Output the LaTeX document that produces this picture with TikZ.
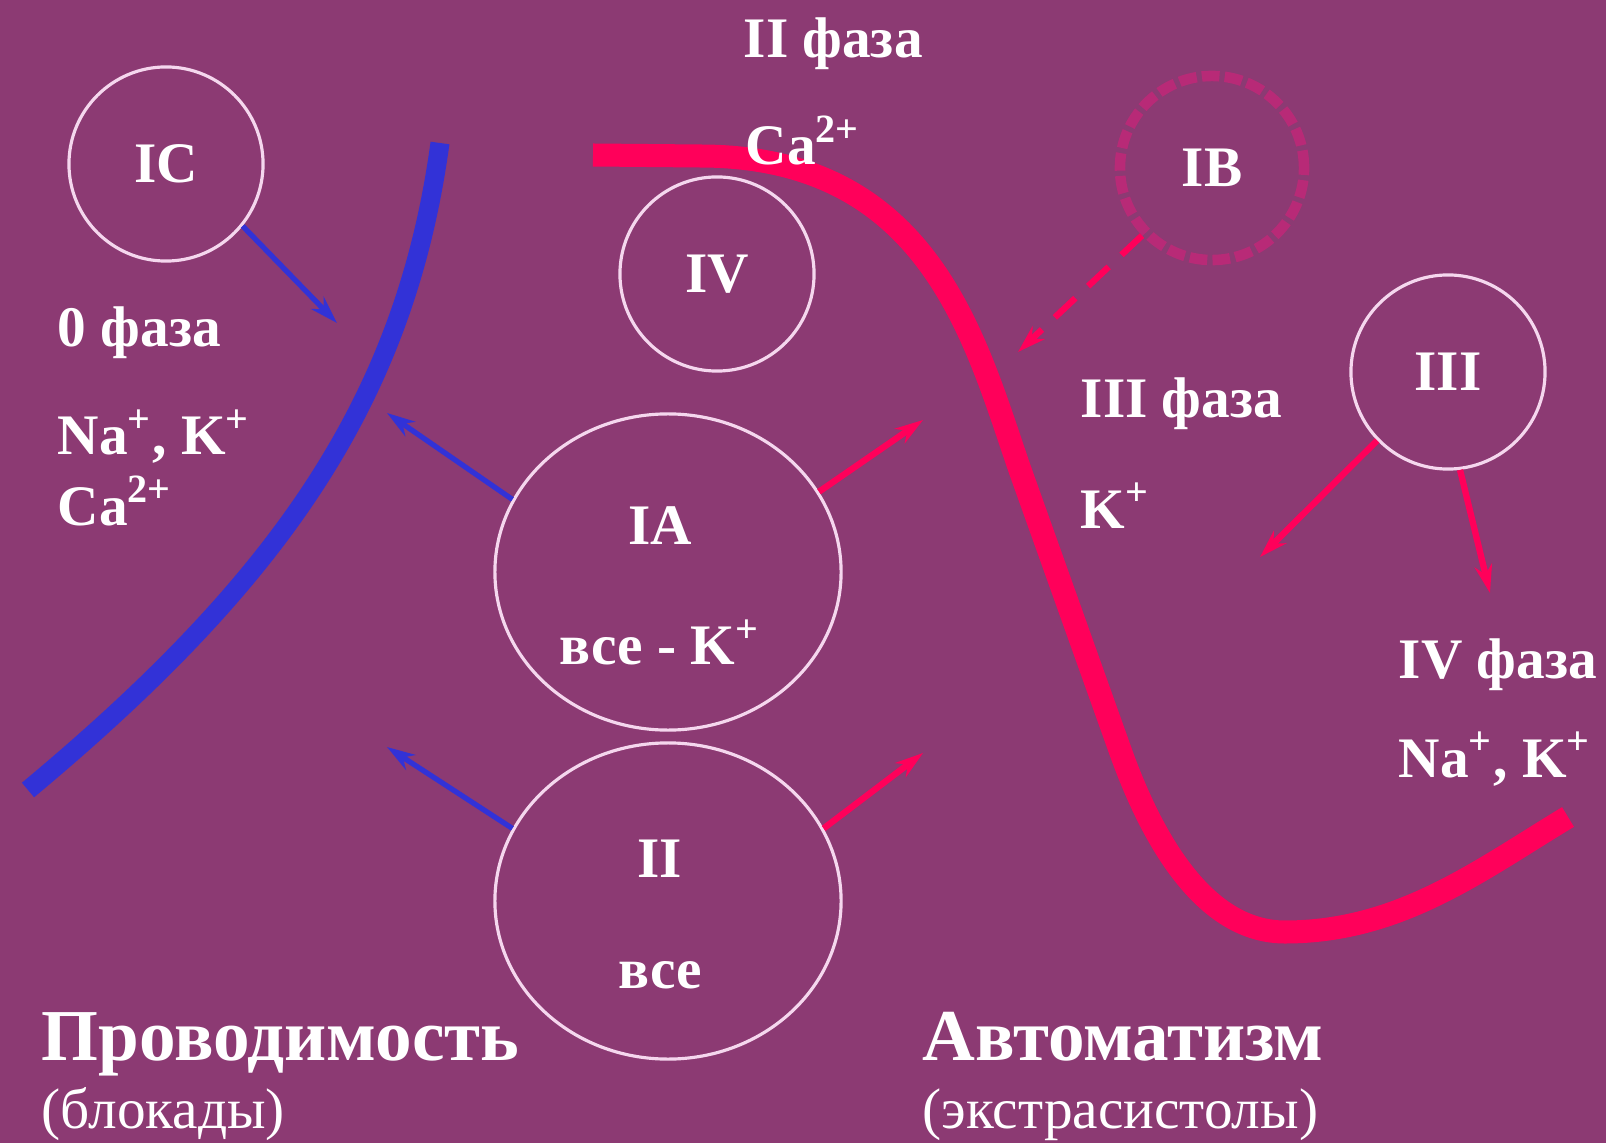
\documentclass[tikz,border=0pt]{standalone}
\usepackage{fontspec}
\setmainfont{Liberation Serif}
\usepackage{tikz}
\usetikzlibrary{
  arrows.meta,
  shapes.geometric
}
\definecolor{bgpurple}{RGB}{140,58,115}
\definecolor{curvered}{RGB}{255,0,90}
\definecolor{curveblue}{RGB}{50,50,215}
\definecolor{ringwhite}{RGB}{245,215,238}
\definecolor{ringpink}{RGB}{195,38,120}

\begin{document}
\begin{tikzpicture}[x=0.01cm,y=-0.01cm,
  classcirc/.style={circle,draw=ringwhite,line width=0.9pt,minimum size=1.94cm,inner sep=0,text=white,font=\bfseries\fontsize{16.3}{19}\selectfont},
  classoval/.style={ellipse,draw=ringwhite,line width=0.9pt,minimum width=3.46cm,minimum height=3.16cm,inner sep=0},
  lbl/.style={text=white,font=\bfseries\fontsize{16.3}{19}\selectfont,inner sep=0},
  note/.style={lbl,anchor=base west},
  bigtitle/.style={note,font=\bfseries\fontsize{20.8}{24}\selectfont},
  subtitle/.style={note,font=\fontsize{16.3}{19}\selectfont},
  bluearrow/.style={curveblue,line width=1.5pt,-{Stealth[length=8pt,width=5pt]}},
  redarrow/.style={curvered,line width=1.8pt,-{Stealth[length=8pt,width=5pt]}}
]
\useasboundingbox (0,0) rectangle (1606,1143);
\fill[bgpurple] (0,0) rectangle (1606,1143);

\draw[curveblue,line width=0.19cm] (440,143) .. controls (405,400) and (280,580) .. (28,790);
\draw[curvered,line width=0.23cm] (593,155) -- (700,156)
  .. controls (930,156) and (975,340) .. (1020,470) -- (1120,750)
  .. controls (1160,862) and (1215,932) .. (1285,932)
  .. controls (1400,932) and (1480,870) .. (1568,817);

\node[classcirc] (IC) at (166,164) {IC};
\node[classcirc] (IV) at (717,274) {IV};
\node[classcirc] (III) at (1448,372) {III};
\node[classcirc,draw=ringpink,draw opacity=0.8,line width=3pt,dash pattern=on 5pt off 1.5pt,minimum size=1.84cm] (IB) at (1212,168) {IB};
\node[classoval] (IA) at (668,572) {};
\node[classoval] (II) at (668,901) {};

\node[lbl] (IAname) at (660,526) {IA};
\node[lbl] (IAions) at (660,642) {все - K\textsuperscript{+}};
\node[lbl] (IIname) at (660,859) {II};
\node[lbl] (IIions) at (660,975) {все};

\coordinate (icTip) at (337,323);
\coordinate (iaBlueTip) at (387,413);
\coordinate (iiBlueTip) at (387,747);
\coordinate (iaRedTip) at (923,420);
\coordinate (iiRedTip) at (923,753);
\coordinate (ibTip) at (1018,352);
\coordinate (iiiTipA) at (1260,557);
\coordinate (iiiTipB) at (1490,593);

\draw[bluearrow] (IC.-39) -- (icTip);
\draw[bluearrow] (IA.155) -- (iaBlueTip);
\draw[bluearrow] (II.155) -- (iiBlueTip);
\draw[redarrow] (IA.28) -- (iaRedTip);
\draw[redarrow] (II.25) -- (iiRedTip);
\draw[redarrow,dash pattern=on 8pt off 5pt] (IB.-136) -- (ibTip);
\draw[redarrow] (III.-136) -- (iiiTipA);
\draw[redarrow] (III.-83) -- (iiiTipB);

\node[note] (phase0) at (57,347) {0 фаза};
\node[note] (ions0a) at (57,455) {Na\textsuperscript{+}, K\textsuperscript{+}};
\node[note] (ions0b) at (57,525) {Ca\textsuperscript{2+}};
\node[note] (phase2) at (743,58) {II фаза};
\node[note] (ions2) at (745,165) {Ca\textsuperscript{2+}};
\node[note] (phase3) at (1080,418) {III фаза};
\node[note] (ions3) at (1080,528) {K\textsuperscript{+}};
\node[note] (phase4) at (1398,678) {IV фаза};
\node[note] (ions4) at (1398,777) {Na\textsuperscript{+}, K\textsuperscript{+}};

\node[bigtitle] (conduct) at (41,1060) {Проводимость};
\node[subtitle] (blocks) at (41,1128) {(блокады)};
\node[bigtitle] (automat) at (922,1060) {Автоматизм};
\node[subtitle] (extras) at (922,1128) {(экстрасистолы)};
\end{tikzpicture}
\end{document}
